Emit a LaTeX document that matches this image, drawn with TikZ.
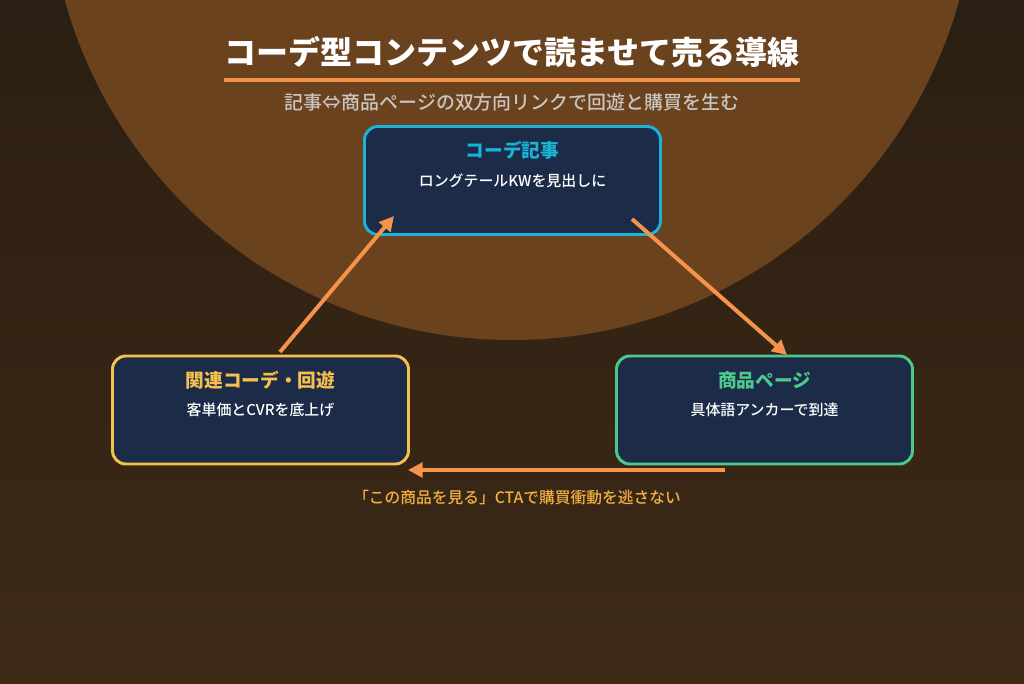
\documentclass[tikz,border=0pt]{standalone}
\usepackage{fontspec}
\setmainfont{Noto Sans CJK JP}
\newfontfamily\jpmed{Noto Sans CJK JP Medium}
\newfontfamily\jpblack{Noto Sans CJK JP Black}
\usetikzlibrary{arrows.meta}
\definecolor{bgtop}{HTML}{2B1E12}
\definecolor{bgbot}{HTML}{3D2A17}
\definecolor{halo}{HTML}{6A421E}
\definecolor{boxfill}{HTML}{1C2B48}
\definecolor{cyanc}{HTML}{1AB4D8}
\definecolor{yellc}{HTML}{F5C04C}
\definecolor{greenc}{HTML}{4CC98A}
\definecolor{orangec}{HTML}{F5934A}
\definecolor{subc}{HTML}{C9C6C2}
\definecolor{capc}{HTML}{F0B040}
\tikzset{
  card/.style={draw, line width=2.2pt, fill=boxfill, rounded corners=10pt,
    minimum width=222pt, minimum height=81pt, inner sep=0pt},
  cardtitle/.style={font=\bfseries\fontsize{14}{16}\selectfont},
  cardsub/.style={text=white, font=\jpmed\fontsize{11.2}{13}\selectfont},
  flow/.style={draw=orangec, line width=3pt, -{Triangle[length=11pt,width=11pt]}}
}
\begin{document}
\begin{tikzpicture}[x=0.75pt,y=-0.75pt]
\useasboundingbox (0,0) rectangle (1024,683);
\shade[top color=bgtop, bottom color=bgbot] (0,0) rectangle (1024,683);
\begin{scope}
\clip (0,0) rectangle (1024,683);
\fill[halo] (512,-124) circle[radius=348pt];
\end{scope}
% title
\node[text=white, font=\jpblack\fontsize{24}{28}\selectfont] (title) at (512,52) {コーデ型コンテンツで読ませて売る導線};
\coordinate (ulL) at (224,80);
\coordinate (ulR) at (800,80);
\draw[orangec, line width=2.6pt] (ulL) -- (ulR);
\node[text=subc, font=\jpmed\fontsize{14.2}{16}\selectfont] (subtitle) at (512,102) {記事⇔商品ページの双方向リンクで回遊と購買を生む};
% cards
\node[card, draw=cyanc] (top) at (512.5,180.5) {};
\node[card, draw=yellc] (left) at (260.5,410) {};
\node[card, draw=greenc] (right) at (764.5,410) {};
\node[cardtitle, text=cyanc] (topT) at (512.5,150) {コーデ記事};
\node[cardsub] (topS) at (512.5,181) {ロングテールKWを見出しに};
\node[cardtitle, text=yellc] (leftT) at (260.5,380) {関連コーデ・回遊};
\node[cardsub] (leftS) at (260.5,410) {客単価とCVRを底上げ};
\node[cardtitle, text=greenc] (rightT) at (764.5,380) {商品ページ};
\node[cardsub] (rightS) at (764.5,410) {具体語アンカーで到達};
% arrows
\coordinate (a1s) at (280,352);
\coordinate (a1e) at (394,216);
\coordinate (a2s) at (632,219);
\coordinate (a2e) at (787,355);
\coordinate (a3s) at (725,470);
\coordinate (a3e) at (408,470);
\draw[flow] (a1s) -- (a1e);
\draw[flow] (a2s) -- (a2e);
\draw[flow] (a3s) -- (a3e);
\node[text=capc, font=\jpmed\fontsize{11.8}{14}\selectfont] (caption) at (517,498) {「この商品を見る」CTAで購買衝動を逃さない};
\end{tikzpicture}
\end{document}
